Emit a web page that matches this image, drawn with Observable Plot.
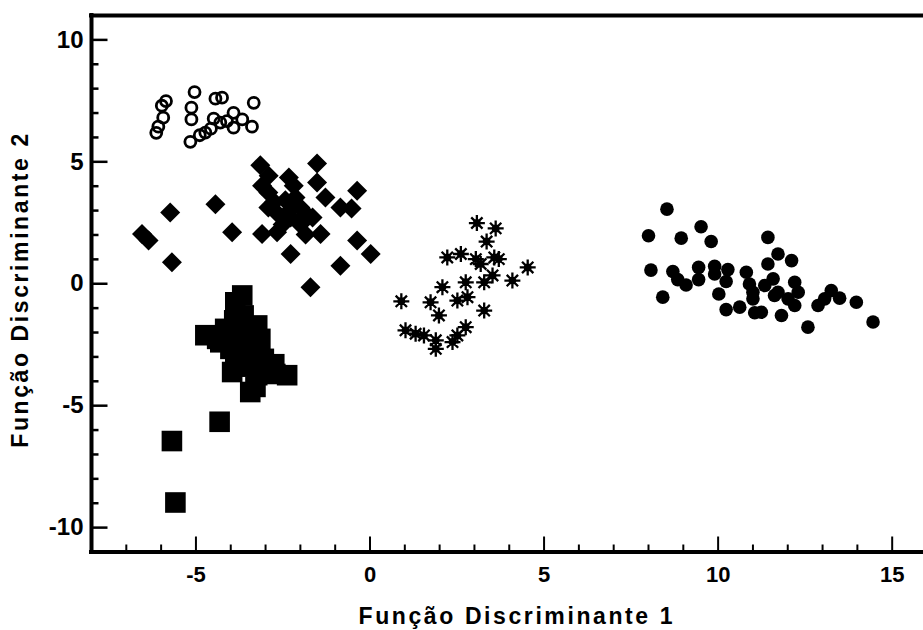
<!DOCTYPE html>
<html>
<head>
<meta charset="utf-8">
<script src="https://cdn.jsdelivr.net/npm/d3@7"></script>
<script src="https://cdn.jsdelivr.net/npm/@observablehq/plot@0.6"></script>
<style>
  html, body { margin: 0; padding: 0; background: white; }
</style>
</head>
<body>
<div id="chart"></div>
<script>
// Scores of each group on the two discriminant functions: [função 1, função 2]
const openCircles = [
  [-6.14, 6.19], [-6.08, 6.44], [-5.94, 6.81], [-5.98, 7.30], [-5.86, 7.49],
  [-5.04, 7.86], [-5.13, 7.22], [-5.13, 6.74], [-5.16, 5.82], [-4.89, 6.09],
  [-4.73, 6.20], [-4.57, 6.36], [-4.49, 6.77], [-4.44, 7.59], [-4.25, 7.63],
  [-4.30, 6.61], [-4.11, 6.67], [-3.92, 7.01], [-3.92, 6.40], [-3.67, 6.74],
  [-3.39, 6.44], [-3.34, 7.42]
];
const diamonds = [
  [-3.15, 4.86], [-1.52, 4.93], [-2.91, 4.43], [-2.33, 4.36], [-3.10, 4.02],
  [-1.52, 4.15], [-2.19, 4.02], [-0.37, 3.81], [-0.53, 3.09], [-0.85, 3.13],
  [-1.28, 3.54], [-5.74, 2.92], [-4.44, 3.26], [-3.96, 2.11], [-6.55, 2.04],
  [-6.36, 1.77], [-5.69, 0.88], [-3.10, 2.04], [-2.67, 2.11], [-2.28, 1.22],
  [-1.71, -0.14], [-1.42, 2.04], [-0.37, 1.77], [0.02, 1.22], [-0.85, 0.74],
  [-2.92, 3.13], [-2.63, 2.84], [-2.28, 2.72], [-2.00, 3.13], [-1.82, 2.84],
  [-2.43, 3.42], [-2.14, 3.54], [-2.51, 2.43], [-2.00, 2.43], [-1.65, 2.72],
  [-2.92, 3.74], [-1.85, 2.02], [-2.75, 3.35], [-2.30, 3.00]
];
const squares = [
  [-3.67, -0.48], [-3.87, -0.76], [-3.63, -1.30], [-4.16, -1.85], [-4.73, -2.11],
  [-4.39, -2.26], [-3.24, -1.71], [-4.01, -2.67], [-3.44, -2.53], [-3.15, -2.26],
  [-3.72, -2.94], [-3.05, -3.08], [-3.96, -3.62], [-3.63, -3.35], [-3.24, -3.75],
  [-2.96, -3.62], [-2.38, -3.75], [-3.44, -4.44], [-4.30, -2.40], [-3.51, -1.99],
  [-3.87, -3.21], [-3.29, -4.23], [-2.72, -3.70], [-3.70, -2.20], [-3.35, -3.00],
  [-3.90, -1.50], [-3.40, -3.40], [-2.75, -3.30], [-4.32, -5.66], [-5.69, -6.45],
  [-5.59, -8.97]
];
const asterisks = [
  [3.07, 2.49], [3.61, 2.27], [3.35, 1.73], [2.22, 1.08], [2.61, 1.22],
  [3.04, 1.01], [3.18, 0.81], [3.57, 1.08], [3.70, 1.01], [4.53, 0.67],
  [4.09, 0.13], [3.52, 0.34], [3.28, 0.06], [2.75, 0.06], [2.08, -0.14],
  [0.90, -0.72], [1.74, -0.76], [2.51, -0.69], [2.80, -0.55], [1.98, -1.30],
  [3.28, -1.10], [1.02, -1.91], [1.31, -2.05], [1.55, -2.12], [1.89, -2.32],
  [1.89, -2.67], [2.37, -2.39], [2.75, -1.78], [2.51, -2.12]
];
const filledCircles = [
  [8.53, 3.06], [8.00, 1.97], [8.94, 1.87], [9.51, 2.34], [9.80, 1.73],
  [8.07, 0.56], [8.70, 0.50], [8.84, 0.17], [9.08, -0.05], [9.44, 0.67],
  [9.44, 0.17], [9.90, 0.72], [9.90, 0.40], [10.28, 0.58], [10.23, 0.09],
  [8.41, -0.55], [10.02, -0.42], [10.23, -1.06], [10.62, -0.96], [10.81, 0.47],
  [10.90, -0.01], [11.00, -0.35], [11.05, -1.19], [11.24, -1.17], [11.43, 1.90],
  [11.72, 1.22], [12.11, 0.95], [11.43, 0.81], [11.58, 0.20], [11.34, -0.07],
  [11.72, -0.35], [12.20, 0.06], [12.30, -0.35], [12.01, -0.62], [12.20, -0.89],
  [11.82, -1.30], [12.58, -1.78], [12.87, -0.89], [13.06, -0.62], [13.25, -0.28],
  [13.49, -0.59], [13.97, -0.76], [14.45, -1.57], [11.62, -0.48], [11.00, -0.62]
];

const xMajorTicks = [-5, 0, 5, 10, 15];
const yMajorTicks = [-10, -5, 0, 5, 10];
const xMinorTicks = [-7, -6, -4, -3, -2, -1, 1, 2, 3, 4, 6, 7, 8, 9, 11, 12, 13, 14];
const yMinorTicks = [-9, -8, -7, -6, -4, -3, -2, -1, 1, 2, 3, 4, 6, 7, 8, 9];
const xTitle = "Função Discriminante 1";
const yTitle = "Função Discriminante 2";

// Custom marker shapes; Plot hands each one size = πr², so h is the dot radius r
const half = (size) => Math.sqrt(size / Math.PI);
const squareSymbol = {draw(ctx, size) { const h = half(size); ctx.rect(-h, -h, 2 * h, 2 * h); }};
const diamondSymbol = {draw(ctx, size) {
  const h = half(size);
  ctx.moveTo(0, -h); ctx.lineTo(h, 0); ctx.lineTo(0, h); ctx.lineTo(-h, 0); ctx.closePath();
}};
const asteriskSymbol = {draw(ctx, size) {
  const h = half(size), d = h * Math.SQRT1_2, c = h * 0.35;
  ctx.moveTo(-h, 0); ctx.lineTo(h, 0);
  ctx.moveTo(0, -h); ctx.lineTo(0, h);
  ctx.moveTo(-d, -d); ctx.lineTo(d, d);
  ctx.moveTo(-d, d); ctx.lineTo(d, -d);
  ctx.moveTo(c, 0); ctx.arc(0, 0, c, 0, 2 * Math.PI);
}};
// inward tick marks: length = r pixels
const tickUp = {draw(ctx, size) { ctx.moveTo(0, 0); ctx.lineTo(0, -half(size)); }};
const tickRight = {draw(ctx, size) { ctx.moveTo(0, 0); ctx.lineTo(half(size), 0); }};

const X = (d) => d[0];
const Y = (d) => d[1];

const chart = Plot.plot({
  width: 923,
  height: 630,
  marginLeft: 91,
  marginRight: 0,
  marginTop: 15,
  marginBottom: 78.5,
  style: {
    fontFamily: "'Liberation Sans', Arial, sans-serif",
    fontWeight: "bold",
    background: "white",
    color: "black"
  },
  x: {domain: [-8, 16], range: [91, 926.5]},
  y: {domain: [-11, 11], range: [551.5, 15]},
  marks: [
    // frame: left axis, bottom axis and top border
    Plot.ruleX([-8], {stroke: "black", strokeWidth: 4, strokeLinecap: "square"}),
    Plot.ruleY([-11], {stroke: "black", strokeWidth: 4, strokeLinecap: "square"}),
    Plot.ruleY([11], {stroke: "black", strokeWidth: 4, strokeLinecap: "square"}),
    // inward ticks
    Plot.dot(xMinorTicks, {x: (d) => d, frameAnchor: "bottom", symbol: tickUp, r: 7.5, fill: "none", stroke: "black", strokeWidth: 2}),
    Plot.dot(xMajorTicks, {x: (d) => d, frameAnchor: "bottom", symbol: tickUp, r: 15.5, fill: "none", stroke: "black", strokeWidth: 2}),
    Plot.dot(yMinorTicks, {y: (d) => d, frameAnchor: "left", symbol: tickRight, r: 7, fill: "none", stroke: "black", strokeWidth: 2.5}),
    Plot.dot(yMajorTicks, {y: (d) => d, frameAnchor: "left", symbol: tickRight, r: 16, fill: "none", stroke: "black", strokeWidth: 2.5}),
    // tick labels
    Plot.axisX({ticks: xMajorTicks, tickSize: 0, tickPadding: 14.5, tickFormat: (d) => String(d), fontSize: 22, label: null}),
    Plot.axisY({ticks: yMajorTicks, tickSize: 0, tickPadding: 8, tickFormat: (d) => String(d), fontSize: 24, label: null}),
    // axis titles
    Plot.text([xTitle], {text: (d) => d, frameAnchor: "bottom", textAnchor: "middle", lineAnchor: "bottom", dx: 8, dy: 71.5, fontSize: 23}),
    Plot.text([yTitle], {text: (d) => d, frameAnchor: "left", textAnchor: "middle", rotate: -90, lineAnchor: "bottom", dx: -64, dy: 7, fontSize: 23}),
    // groups
    Plot.dot(diamonds, {x: X, y: Y, symbol: diamondSymbol, r: 10, fill: "black", stroke: "none"}),
    Plot.dot(squares, {x: X, y: Y, symbol: squareSymbol, r: 10.3, fill: "black", stroke: "none"}),
    Plot.dot(openCircles, {x: X, y: Y, r: 5.5, fill: "none", stroke: "black", strokeWidth: 2.8}),
    Plot.dot(asterisks, {x: X, y: Y, symbol: asteriskSymbol, r: 8, fill: "black", stroke: "black", strokeWidth: 2.3}),
    Plot.dot(filledCircles, {x: X, y: Y, r: 6.8, fill: "black", stroke: "none"})
  ]
});

// spread the axis titles to their printed width
chart.querySelectorAll("text").forEach((t) => {
  if (t.textContent === xTitle || t.textContent === yTitle) t.setAttribute("textLength", 314);
});

document.getElementById("chart").appendChild(chart);
</script>
</body>
</html>
